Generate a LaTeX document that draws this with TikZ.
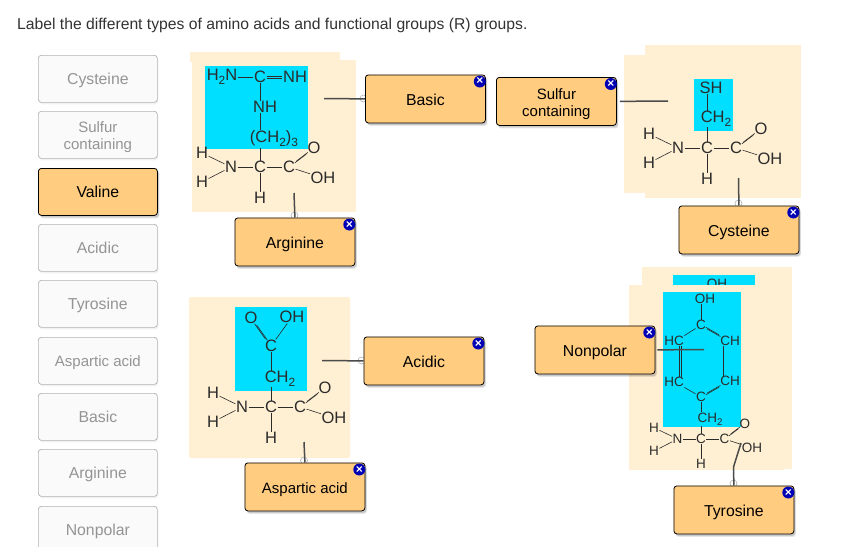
\documentclass[tikz,border=0pt]{standalone}
\usepackage{fontspec}
\setmainfont{Liberation Sans}
\usetikzlibrary{shadows}
\definecolor{panel}{HTML}{FFEFD3}
\definecolor{rgroup}{HTML}{00DFFF}
\definecolor{tag}{HTML}{FFCC80}
\definecolor{inkdark}{HTML}{2B2B2B}
\definecolor{badgeblue}{HTML}{0000B4}
\newcommand{\lowr}[1]{\raisebox{-0.25em}{\scalebox{0.72}{#1}}}
\newcommand{\fs}[1]{\fontsize{#1}{#1}\selectfont}
\tikzset{
  x=1pt,y=-1pt,
  panelbox/.style={fill=panel,draw=none},
  rbox/.style={fill=rgroup,draw=none},
  atom/.style={inner sep=0.4pt,text=inkdark,font=\atomfont},
  bond/.style={draw=inkdark,line width=0.6pt},
  leader/.style={draw=inkdark!85,line width=1.5pt},
  ring/.style={circle,draw=black!35,fill=white,line width=0.5pt,minimum size=7pt,inner sep=0pt},
  placed/.style={anchor=north west,minimum width=120pt,minimum height=48pt,inner sep=0pt,
    rounded corners=3pt,draw=black,line width=0.8pt,fill=tag,text=black,align=center,
    general shadow={shadow xshift=2pt,shadow yshift=-3pt,fill=black,opacity=0.10,scale=1.01},
    general shadow={shadow xshift=1.5pt,shadow yshift=-2pt,fill=black,opacity=0.12}},
  tray/.style={anchor=north west,minimum width=119pt,minimum height=47pt,inner sep=0pt,
    rounded corners=3pt,draw=black!30,line width=0.7pt,fill=black!2,text=black!42,align=center,
    general shadow={shadow xshift=1pt,shadow yshift=-2pt,fill=black,opacity=0.05}},
  trayon/.style={placed,minimum width=119pt,minimum height=47pt},
  wordbig/.style={font=\fs{15.8},text height=13.5pt,text depth=1pt},
  wordtray/.style={font=\fs{15.8},text height=11.5pt,text depth=1pt},
  wordsmall/.style={font=\fs{15},text height=14pt,text depth=1pt},
  twolines/.style={font=\fontsize{15}{17}\selectfont},
  badge/.style={circle,fill=badgeblue,minimum size=12pt,inner sep=0pt,text=white,font=\fs{12}\bfseries},
}
\newcommand{\atomfont}{\fs{16.5}}
% #1 prefix, #2 x, #3 y of alpha carbon, #4 scale
\newcommand{\amino}[4]{%
  \begin{scope}[shift={(#2,#3)},x=#4pt,y=-#4pt]
    \node[atom] (#1ca) at (0,0) {C};
    \node[atom] (#1n) at (-29,0) {N};
    \node[atom] (#1ha) at (-58,-14) {H};
    \node[atom] (#1hb) at (-58,15) {H};
    \node[atom] (#1cc) at (29,0) {C};
    \node[atom] (#1o) at (54,-19) {O};
    \node[atom] (#1oh) at (63,11) {OH};
    \node[atom] (#1h) at (0,31) {H};
    \draw[bond] (#1ha) -- (#1n);
    \draw[bond] (#1hb) -- (#1n);
    \draw[bond] (#1n) -- (#1ca);
    \draw[bond] (#1ca) -- (#1cc);
    \draw[bond] (#1ca) -- (#1h);
    \draw[bond] (#1cc) -- (#1oh);
    \draw[bond,transform canvas={shift={(-0.8pt,-0.9pt)}}] (#1cc) -- (#1o);
    \draw[bond,transform canvas={shift={(0.8pt,0.9pt)}}] (#1cc) -- (#1o);
  \end{scope}}
\newcommand{\dbl}[4]{%
  \draw[bond,transform canvas={shift={(#3pt,#4pt)}}] (#1) -- (#2);
  \draw[bond,transform canvas={shift={(-#3pt,-#4pt)}}] (#1) -- (#2);}
\newcommand{\closer}[2]{\node[badge] (#1x) at ([xshift=-6pt,yshift=-7pt]#2.north east) {×};}
\begin{document}
\begin{tikzpicture}
\useasboundingbox (0,0) rectangle (856,546);
\clip (0,0) rectangle (856,546);
\fill[white] (0,0) rectangle (856,546);
\node[anchor=base west,inner sep=0pt,text=black!80,font=\fs{15.7}] (title) at (17,29) {Label the different types of amino acids and functional groups (R) groups.};

% tray
\node[tray,wordtray] (t1) at (38,55) {Cysteine};
\node[tray,twolines] (t2) at (38,111) {\rule{0pt}{15pt}Sulfur\\containing};
\node[trayon,wordtray] (t3) at (38,168) {Valine};
\node[tray,wordtray] (t4) at (38,224) {Acidic};
\node[tray,wordtray] (t5) at (38,280) {Tyrosine};
\node[tray,wordsmall,text height=13pt,text depth=1pt] (t6) at (38,337) {Aspartic acid};
\node[tray,wordtray] (t7) at (38,393) {Basic};
\node[tray,wordtray] (t8) at (38,449) {Arginine};
\node[tray,wordtray] (t9) at (38,506) {Nonpolar};

% panels
\fill[panelbox] (190,52) rectangle (340,62);
\fill[panelbox] (192,60) rectangle (356,212);
\fill[rbox] (205,66) rectangle (308,149);
\fill[panelbox] (645,45) rectangle (801,198);
\fill[panelbox] (624,55) rectangle (790,193);
\fill[rbox] (694,79) rectangle (733,131);
\fill[panelbox,rounded corners=2pt] (189,297) rectangle (350,458);
\fill[rbox] (235,307) rectangle (307,391);
\fill[panelbox] (642,267) rectangle (792,469);
\fill[rbox] (673,275) rectangle (755,286);
\node[atom,font=\fs{13.5}] (backoh) at (717,284) {OH};
\fill[panelbox] (629,285) rectangle (784,470);
\fill[rbox] (663,292) rectangle (741,427);

% arginine
\amino{a}{260}{167}{1}
\node[atom] (a1) at (222,77) {H\lowr{2}N};
\node[atom] (a2) at (260,77) {C};
\node[atom] (a3) at (295,77) {NH};
\node[atom] (a4) at (265,107) {NH};
\node[atom] (a5) at (274,139) {(CH\lowr{2})\lowr{3}};
\draw[bond] (a1) -- (a2);
\dbl{a2}{a3}{0}{1}
\draw[bond] (a2) -- (a2 |- a4.north);
\draw[bond] (a2 |- a4.south) -- (a2 |- a5.north);
\draw[bond] (a2 |- a5.south) -- (aca);

% cysteine
\amino{c}{707}{148}{1}
\node[atom] (c1) at (711,88) {SH};
\node[atom] (c2) at (716,119) {CH\lowr{2}};
\draw[bond] (c1.south -| cca) -- (c2.north -| cca);
\draw[bond] (c2.south -| cca) -- (cca);

% aspartic acid
\amino{d}{271}{407}{1}
\node[atom] (d1) at (251,318) {O};
\node[atom] (d2) at (292,317) {OH};
\node[atom] (d3) at (271,346) {C};
\node[atom] (d4) at (280,379) {CH\lowr{2}};
\dbl{d1}{d3}{1}{-0.6}
\draw[bond] (d2) -- (d3);
\draw[bond] (d3) -- (d3 |- d4.north);
\draw[bond] (d3 |- d4.south) -- (dca);

% tyrosine
\renewcommand{\atomfont}{\fs{13.5}}
\amino{y}{701}{439}{0.81}
\node[atom] (y1) at (705,299) {OH};
\node[atom] (y2) at (701,325) {C};
\node[atom] (y3) at (674,341) {HC};
\node[atom] (y4) at (730,341) {CH};
\node[atom] (y5) at (674,382) {HC};
\node[atom] (y6) at (730,381) {CH};
\node[atom] (y7) at (701,397) {C};
\node[atom] (y8) at (710,419) {CH\lowr{2}};
\draw[bond] (y1.south -| y2) -- (y2);
\draw[bond] (y2) -- (y3.north east);
\dbl{y2}{y4.north west}{0.7}{-0.9}
\dbl{[xshift=6.5pt]y3.south}{[xshift=6.5pt]y5.north}{1}{0}
\draw[bond] ([xshift=-7pt]y4.south) -- ([xshift=-7pt]y6.north);
\draw[bond] (y5.south east) -- (y7);
\dbl{y7}{y6.south west}{0.7}{0.9}
\draw[bond] (y7) -- (y7 |- y8.north);
\draw[bond] (y7 |- y8.south) -- (yca);

% placed labels
\coordinate (e1) at (324,98.5);
\coordinate (e2) at (294,193);
\coordinate (e3) at (668,101);
\coordinate (e4) at (738.5,178);
\coordinate (e5) at (322,360.5);
\coordinate (e6) at (304,442);
\coordinate (e7) at (704,349.5);
\coordinate (e8) at (741,443);
\coordinate (e8b) at (733.5,467);

\node[ring] (r1) at (363.5,98.5) {};
\node[ring] (r2) at (294.5,215.5) {};
\node[ring] (r4) at (738.5,203.5) {};
\node[ring] (r5) at (361.5,360.5) {};
\node[ring] (r6) at (304,460.5) {};
\node[ring] (r8) at (733.5,483.5) {};

\node[placed,wordbig] (basic) at (365,74.5) {Basic};
\node[placed,wordbig] (arg) at (234.5,217.5) {Arginine};
\node[placed,twolines] (sulf) at (496,77) {\rule{0pt}{17pt}Sulfur\\containing};
\node[placed,wordbig] (cys) at (678.5,205.5) {Cysteine};
\node[placed,wordbig] (acid) at (363.5,336.5) {Acidic};
\node[placed,wordsmall] (asp) at (244.5,462.5) {Aspartic acid};
\node[placed,wordbig] (nonp) at (534.5,325.5) {Nonpolar};
\node[placed,wordbig] (tyr) at (673.5,485.5) {Tyrosine};

\draw[leader] (basic.west) -- (e1);
\draw[leader] (arg.north) -- (e2);
\draw[leader,shorten <=3pt] (sulf.east) -- (e3);
\draw[leader] (cys.north) -- (e4);
\draw[leader] (acid.west) -- (e5);
\draw[leader] (asp.north) -- (e6);
\draw[leader,shorten <=2pt] (nonp.east) -- (e7);
\draw[leader] (tyr.north) -- (e8b) -- (e8);

\closer{basic}{basic}
\closer{arg}{arg}
\closer{sulf}{sulf}
\closer{cys}{cys}
\closer{acid}{acid}
\closer{asp}{asp}
\closer{nonp}{nonp}
\closer{tyr}{tyr}
\end{tikzpicture}
\end{document}
